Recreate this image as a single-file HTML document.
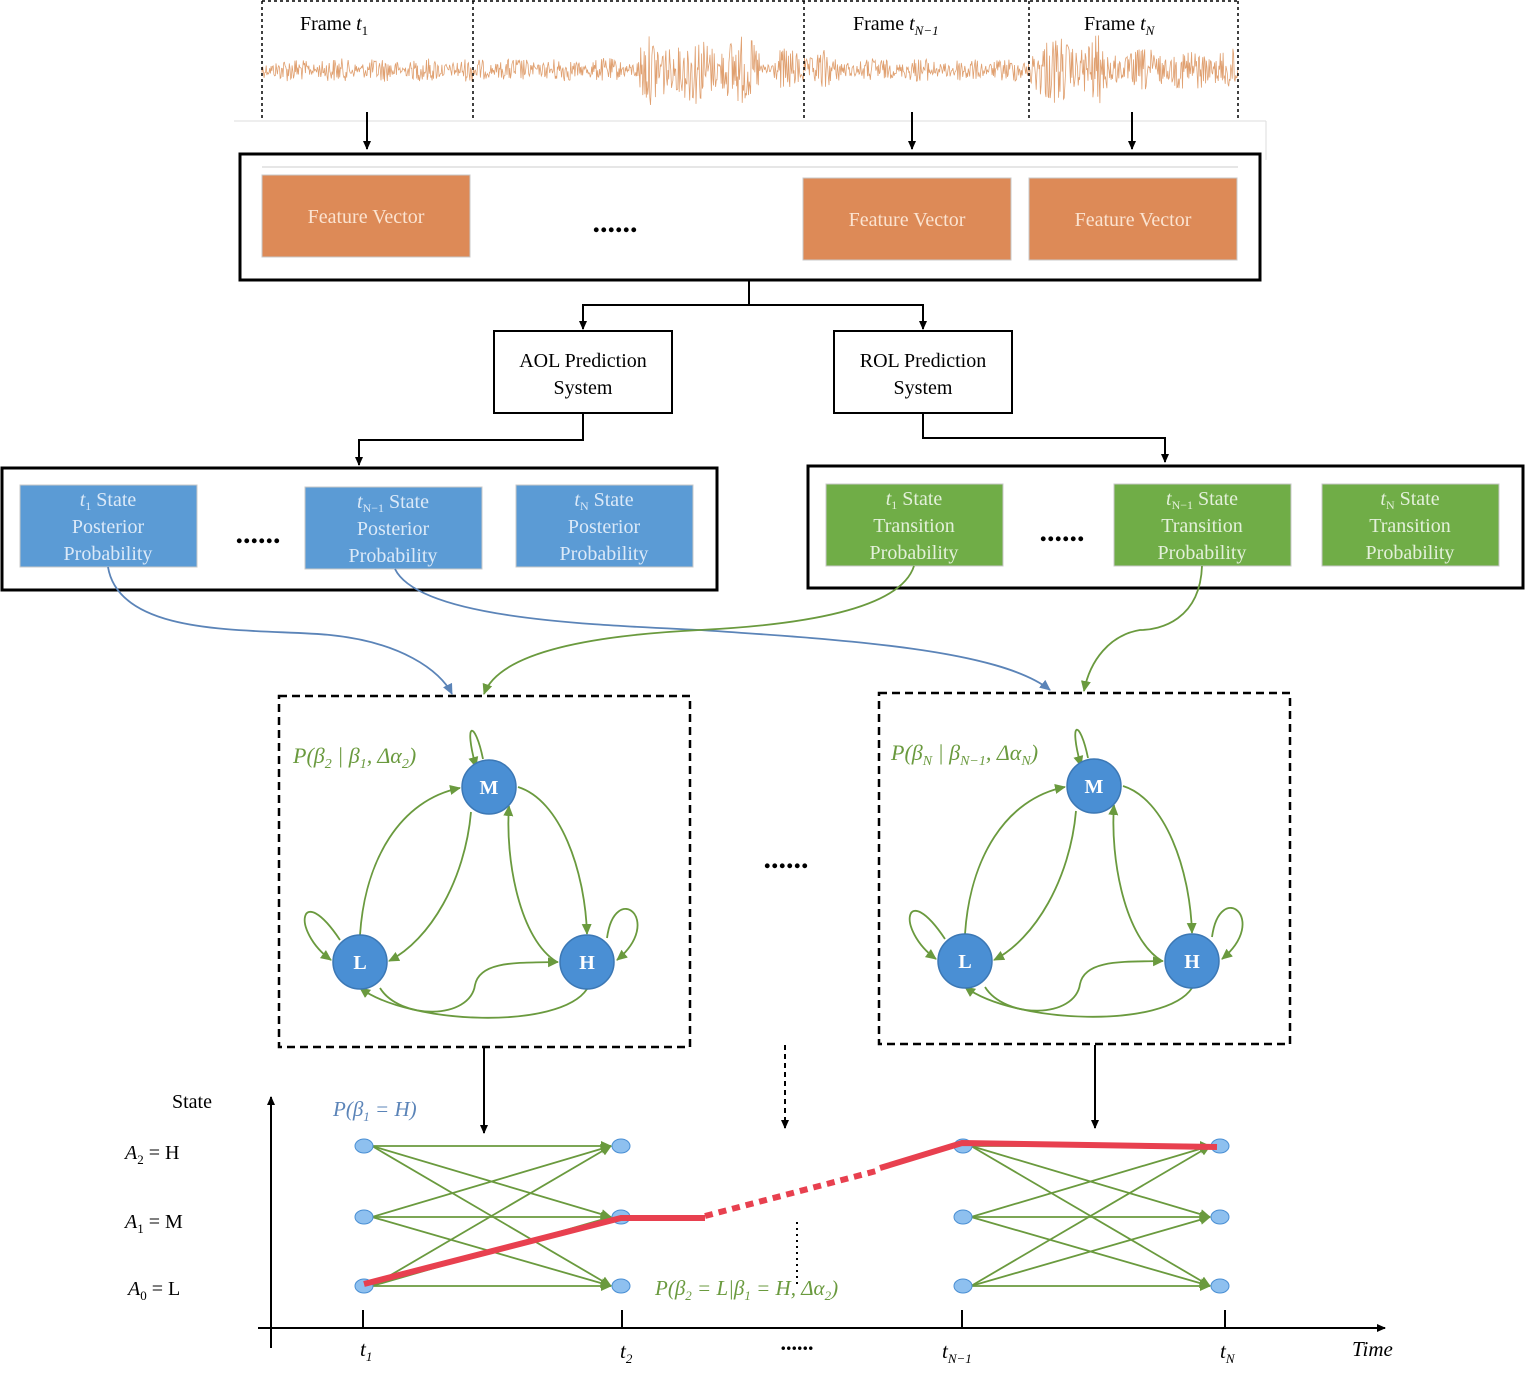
<!DOCTYPE html>
<html><head><meta charset="utf-8"><style>
body{margin:0;background:#fff}
svg{display:block}
text{font-family:"Liberation Serif",serif}
.fv{fill:#fbe3d0;font-size:20px;text-anchor:middle}
.bt{fill:#dbe9f8;font-size:20px;text-anchor:middle}
.gt{fill:#e3f0da;font-size:20px;text-anchor:middle}
.gr{stroke:#6a9a3e;stroke-width:1.8;fill:none}
.nd{fill:#4a8fd4;stroke:#3c78b5;stroke-width:1.5}
.nl{fill:#fff;font-weight:bold;font-size:20px;text-anchor:middle}
</style></head><body>
<svg width="1525" height="1378" viewBox="0 0 1525 1378" xmlns="http://www.w3.org/2000/svg">
<defs>
<marker id="ak" markerWidth="10" markerHeight="10" refX="8" refY="5" orient="auto" markerUnits="userSpaceOnUse"><path d="M0,1 L9,5 L0,9 z" fill="#000"/></marker>
<marker id="ag" markerWidth="12" markerHeight="12" refX="10" refY="6" orient="auto" markerUnits="userSpaceOnUse"><path d="M0,1 L11,6 L0,11 z" fill="#6a9a3e"/></marker>
<marker id="ab" markerWidth="12" markerHeight="12" refX="10" refY="6" orient="auto" markerUnits="userSpaceOnUse"><path d="M0,1 L11,6 L0,11 z" fill="#5b84b8"/></marker>
</defs>
<path id="wave" d="" stroke="#e0a070" stroke-width="0.8" fill="none"/>
<g stroke="#000" stroke-width="1.5" stroke-dasharray="3,3" fill="none">
<line x1="262" y1="1" x2="1238" y2="1"/>
<line x1="262" y1="1" x2="262" y2="120"/><line x1="473" y1="1" x2="473" y2="120"/>
<line x1="804" y1="1" x2="804" y2="120"/><line x1="1029" y1="1" x2="1029" y2="120"/>
<line x1="1238" y1="1" x2="1238" y2="120"/>
</g>
<line x1="234" y1="121" x2="1266" y2="121" stroke="#ddd"/>
<line x1="1266" y1="121" x2="1266" y2="160" stroke="#ddd"/>
<text x="300" y="30" font-size="20">Frame <tspan font-style="italic">t</tspan><tspan font-size="13" dy="5">1</tspan></text>
<text x="853" y="30" font-size="20">Frame <tspan font-style="italic">t</tspan><tspan font-size="13" dy="5" font-style="italic">N−1</tspan></text>
<text x="1084" y="30" font-size="20">Frame <tspan font-style="italic">t</tspan><tspan font-size="13" dy="5" font-style="italic">N</tspan></text>
<g stroke="#000" stroke-width="2" marker-end="url(#ak)">
<line x1="367" y1="112" x2="367" y2="149"/><line x1="912" y1="112" x2="912" y2="149"/><line x1="1132" y1="112" x2="1132" y2="149"/>
</g>
<rect x="240" y="154" width="1020" height="126" fill="none" stroke="#000" stroke-width="3"/>
<line x1="262" y1="167" x2="1238" y2="167" stroke="#ccc"/>
<g fill="#dd8a57" stroke="#c8c8c8" stroke-width="1">
<rect x="262" y="175" width="208" height="82"/><rect x="803" y="178" width="208" height="82"/><rect x="1029" y="178" width="208" height="82"/>
</g>
<text class="fv" x="366" y="223">Feature Vector</text>
<text class="fv" x="907" y="226">Feature Vector</text>
<text class="fv" x="1133" y="226">Feature Vector</text>
<text x="615" y="232" font-size="30" text-anchor="middle" font-weight="bold">......</text>
<g stroke="#000" stroke-width="2" fill="none">
<polyline points="749,280 749,305 583,305 583,329" marker-end="url(#ak)"/>
<polyline points="749,305 923,305 923,329" marker-end="url(#ak)"/>
<polyline points="583,413 583,440 359,440 359,465" marker-end="url(#ak)"/>
<polyline points="923,413 923,438 1165,438 1165,462" marker-end="url(#ak)"/>
</g>
<rect x="494" y="331" width="178" height="82" fill="#fff" stroke="#000" stroke-width="2"/>
<rect x="834" y="331" width="178" height="82" fill="#fff" stroke="#000" stroke-width="2"/>
<text x="583" y="367" font-size="20" text-anchor="middle">AOL Prediction</text>
<text x="583" y="394" font-size="20" text-anchor="middle">System</text>
<text x="923" y="367" font-size="20" text-anchor="middle">ROL Prediction</text>
<text x="923" y="394" font-size="20" text-anchor="middle">System</text>
<rect x="2" y="468" width="715" height="122" fill="none" stroke="#000" stroke-width="3"/>
<rect x="808" y="466" width="715" height="122" fill="none" stroke="#000" stroke-width="3"/>
<g fill="#5b9bd5" stroke="#c8c8c8"><rect x="20" y="485" width="177" height="82"/><rect x="305" y="487" width="177" height="82"/><rect x="516" y="485" width="177" height="82"/></g>
<g fill="#70ad47" stroke="#c8c8c8"><rect x="826" y="484" width="177" height="82"/><rect x="1114" y="484" width="177" height="82"/><rect x="1322" y="484" width="177" height="82"/></g>
<text class="bt" x="108" y="506"><tspan font-style="italic">t</tspan><tspan font-size="12" dy="4">1</tspan><tspan dy="-4"> State</tspan></text>
<text class="bt" x="108" y="533">Posterior</text><text class="bt" x="108" y="560">Probability</text>
<text class="bt" x="393" y="508"><tspan font-style="italic">t</tspan><tspan font-size="12" dy="4">N−1</tspan><tspan dy="-4"> State</tspan></text>
<text class="bt" x="393" y="535">Posterior</text><text class="bt" x="393" y="562">Probability</text>
<text class="bt" x="604" y="506"><tspan font-style="italic">t</tspan><tspan font-size="12" dy="4">N</tspan><tspan dy="-4"> State</tspan></text>
<text class="bt" x="604" y="533">Posterior</text><text class="bt" x="604" y="560">Probability</text>
<text class="gt" x="914" y="505"><tspan font-style="italic">t</tspan><tspan font-size="12" dy="4">1</tspan><tspan dy="-4"> State</tspan></text>
<text class="gt" x="914" y="532">Transition</text><text class="gt" x="914" y="559">Probability</text>
<text class="gt" x="1202" y="505"><tspan font-style="italic">t</tspan><tspan font-size="12" dy="4">N−1</tspan><tspan dy="-4"> State</tspan></text>
<text class="gt" x="1202" y="532">Transition</text><text class="gt" x="1202" y="559">Probability</text>
<text class="gt" x="1410" y="505"><tspan font-style="italic">t</tspan><tspan font-size="12" dy="4">N</tspan><tspan dy="-4"> State</tspan></text>
<text class="gt" x="1410" y="532">Transition</text><text class="gt" x="1410" y="559">Probability</text>
<text x="258" y="543" font-size="30" text-anchor="middle" font-weight="bold">......</text>
<text x="1062" y="541" font-size="30" text-anchor="middle" font-weight="bold">......</text>
<path d="M108,567 C120,640 260,628 330,635 C400,642 440,670 452,694" stroke="#5b84b8" stroke-width="1.8" fill="none" marker-end="url(#ab)"/>
<path d="M395,569 C420,620 600,625 700,630 C850,640 1000,650 1050,690" stroke="#5b84b8" stroke-width="1.8" fill="none" marker-end="url(#ab)"/>
<path d="M914,566 C900,610 800,625 700,630 C600,635 500,650 484,694" class="gr" marker-end="url(#ag)"/>
<path d="M1202,566 C1200,620 1160,630 1140,630 C1110,635 1090,660 1084,691" class="gr" marker-end="url(#ag)"/>
<rect x="279" y="696" width="411" height="351" fill="none" stroke="#000" stroke-width="2.5" stroke-dasharray="8,5"/>
<rect x="879" y="693" width="411" height="351" fill="none" stroke="#000" stroke-width="2.5" stroke-dasharray="8,5"/>
<g id="g1">
<path class="gr" d="M488,759 C480,720 468,720 481,767" marker-end="url(#ag)" transform="translate(-5,0)"/>
<path class="gr" d="M360,935 C365,860 400,800 460,788" marker-end="url(#ag)"/>
<path class="gr" d="M471,812 C465,880 430,940 389,961" marker-end="url(#ag)"/>
<path class="gr" d="M518,787 C560,800 585,870 587,934" marker-end="url(#ag)"/>
<path class="gr" d="M557,962 C520,940 505,860 509,806" marker-end="url(#ag)"/>
<path class="gr" d="M340,940 C300,880 290,930 331,960" marker-end="url(#ag)"/>
<path class="gr" d="M607,938 C615,880 665,920 617,960" marker-end="url(#ag)"/>
<path class="gr" d="M380,988 C400,1020 470,1020 475,985 C480,960 520,963 558,962" marker-end="url(#ag)"/>
<path class="gr" d="M587,989 C560,1030 410,1025 360,988" marker-end="url(#ag)"/>
<circle class="nd" cx="489" cy="787" r="27"/><circle class="nd" cx="360" cy="962" r="27"/><circle class="nd" cx="587" cy="962" r="27"/>
<text class="nl" x="489" y="794">M</text><text class="nl" x="360" y="969">L</text><text class="nl" x="587" y="969">H</text>
</g>
<use href="#g1" transform="translate(605,-1)"/>
<text x="293" y="763" font-size="22" fill="#6a9a3e" font-style="italic">P(β<tspan font-size="14" dy="5">2</tspan><tspan dy="-5"> | β</tspan><tspan font-size="14" dy="5">1</tspan><tspan dy="-5">, Δα</tspan><tspan font-size="14" dy="5">2</tspan><tspan dy="-5">)</tspan></text>
<text x="891" y="760" font-size="22" fill="#6a9a3e" font-style="italic">P(β<tspan font-size="14" dy="5">N</tspan><tspan dy="-5"> | β</tspan><tspan font-size="14" dy="5">N−1</tspan><tspan dy="-5">, Δα</tspan><tspan font-size="14" dy="5">N</tspan><tspan dy="-5">)</tspan></text>
<text x="786" y="868" font-size="30" text-anchor="middle" font-weight="bold">......</text>
<g stroke="#000" stroke-width="2" fill="none">
<line x1="484" y1="1047" x2="484" y2="1133" marker-end="url(#ak)"/>
<line x1="1095" y1="1045" x2="1095" y2="1128" marker-end="url(#ak)"/>
<line x1="785" y1="1045" x2="785" y2="1128" stroke-dasharray="5,4" marker-end="url(#ak)"/>
<line x1="271" y1="1348" x2="271" y2="1097" marker-end="url(#ak)"/>
<line x1="258" y1="1328" x2="1385" y2="1328" marker-end="url(#ak)"/>
<line x1="363" y1="1310" x2="363" y2="1328"/><line x1="622" y1="1310" x2="622" y2="1328"/>
<line x1="962" y1="1310" x2="962" y2="1328"/><line x1="1225" y1="1310" x2="1225" y2="1328"/>
<line x1="797" y1="1222" x2="797" y2="1285" stroke-dasharray="2,4"/>
</g>
<g id="lat">
<g class="gr" stroke-width="1.5" marker-end="url(#ag)">
<line x1="372" y1="1146" x2="611" y2="1146"/><line x1="372" y1="1146" x2="611" y2="1217"/><line x1="372" y1="1146" x2="611" y2="1286"/>
<line x1="372" y1="1217" x2="611" y2="1146"/><line x1="372" y1="1217" x2="611" y2="1217"/><line x1="372" y1="1217" x2="611" y2="1286"/>
<line x1="372" y1="1286" x2="611" y2="1146"/><line x1="372" y1="1286" x2="611" y2="1217"/><line x1="372" y1="1286" x2="611" y2="1286"/>
</g>
<g fill="#8ec0ef" stroke="#4a8fd4"><ellipse cx="364" cy="1146" rx="9" ry="7"/><ellipse cx="364" cy="1217" rx="9" ry="7"/><ellipse cx="364" cy="1286" rx="9" ry="7"/>
<ellipse cx="621" cy="1146" rx="9" ry="7"/><ellipse cx="621" cy="1217" rx="9" ry="7"/><ellipse cx="621" cy="1286" rx="9" ry="7"/></g>
</g>
<use href="#lat" transform="translate(599,0)"/>
<g stroke="#e8404f" stroke-width="6" fill="none">
<polyline points="364,1284 621,1218 705,1218"/>
<line x1="705" y1="1216" x2="880" y2="1170" stroke-dasharray="8,6"/>
<polyline points="880,1168 962,1143 1217,1147"/>
</g>
<text x="172" y="1108" font-size="20">State</text>
<text x="125" y="1159" font-size="20"><tspan font-style="italic">A</tspan><tspan font-size="13" dy="5">2</tspan><tspan dy="-5"> = H</tspan></text>
<text x="125" y="1228" font-size="20"><tspan font-style="italic">A</tspan><tspan font-size="13" dy="5">1</tspan><tspan dy="-5"> = M</tspan></text>
<text x="128" y="1295" font-size="20"><tspan font-style="italic">A</tspan><tspan font-size="13" dy="5">0</tspan><tspan dy="-5"> = L</tspan></text>
<text x="333" y="1116" font-size="21" fill="#5b84b8" font-style="italic">P(β<tspan font-size="13" dy="5">1</tspan><tspan dy="-5"> = H)</tspan></text>
<text x="655" y="1295" font-size="21" fill="#6a9a3e" font-style="italic">P(β<tspan font-size="13" dy="5">2</tspan><tspan dy="-5"> = L|β</tspan><tspan font-size="13" dy="5">1</tspan><tspan dy="-5"> = H, Δα</tspan><tspan font-size="13" dy="5">2</tspan><tspan dy="-5">)</tspan></text>
<g font-size="21" font-style="italic">
<text x="360" y="1356">t<tspan font-size="13" dy="5">1</tspan></text>
<text x="620" y="1358">t<tspan font-size="13" dy="5">2</tspan></text>
<text x="942" y="1358">t<tspan font-size="13" dy="5">N−1</tspan></text>
<text x="1220" y="1358">t<tspan font-size="13" dy="5">N</tspan></text>
<text x="1352" y="1356">Time</text>
</g>
<text x="797" y="1350" font-size="22" text-anchor="middle" font-weight="bold">......</text>
</svg>
<script>
(function(){var s=12345;function r(){s=(s*1103515245+12345)%2147483648;return s/2147483648-0.5;}
var d="M262,70";for(var x=262;x<=1238;x+=0.7){var a=11;
if((x>640&&x<760)||(x>1030&&x<1100))a=32;else if(x>780&&x<830)a=20;else if(x>1100&&x<1238)a=20;
var e=a*(0.5+Math.abs(Math.sin(x*0.07))*0.6);d+=" L"+x.toFixed(1)+","+(70+r()*2*e).toFixed(1);}
document.getElementById("wave").setAttribute("d",d);})();
</script>
</body></html>
